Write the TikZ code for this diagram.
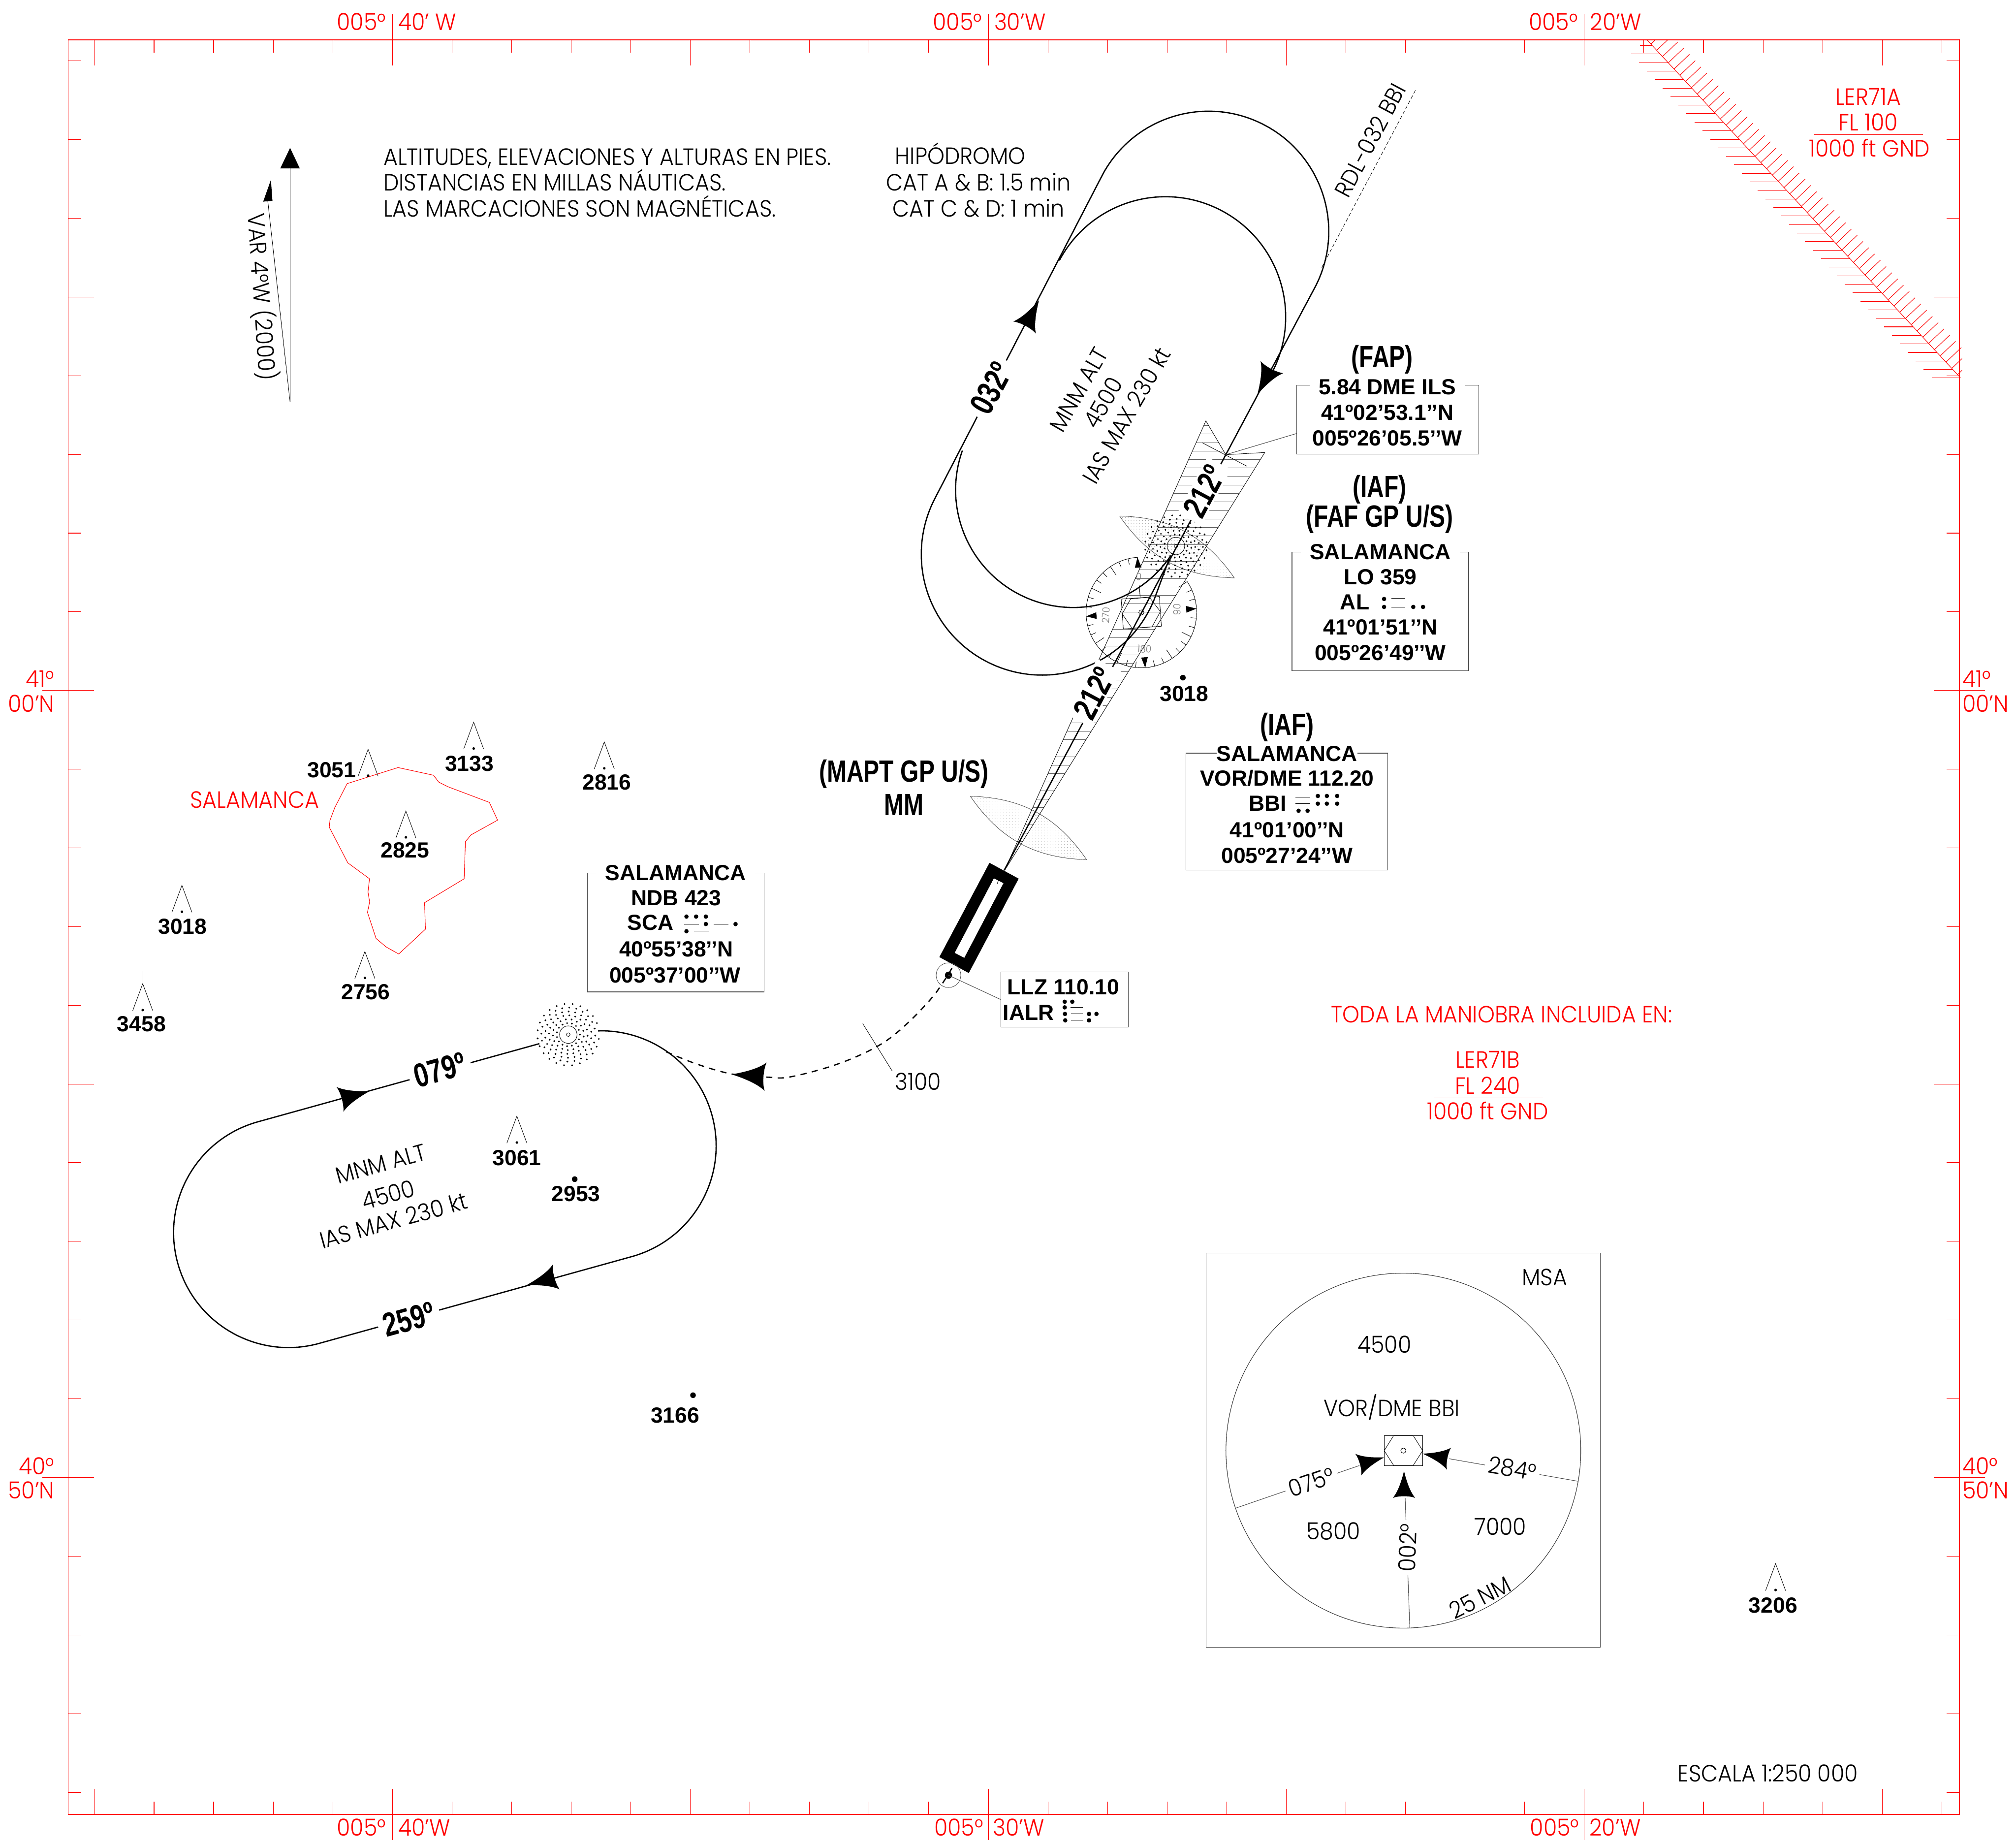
\documentclass[tikz,border=0pt]{standalone}
\usepackage{fontspec}
\usetikzlibrary{patterns.meta}
\newfontfamily\thinfont[FakeStretch=0.93]{Poppins Light}
\newfontfamily\boldfont{Liberation Sans Bold}
\newfontfamily\headfont[FakeStretch=0.77]{Liberation Sans Bold}
\definecolor{chartred}{RGB}{255,0,0}
\tikzset{
	thinlabel/.style={inner sep=0pt,font=\thinfont\fontsize{13}{15}\selectfont},
	redlabel/.style={thinlabel,text=chartred},
	boxtext/.style={inner sep=0pt,font=\boldfont\fontsize{12.1}{14}\selectfont},
	boxname/.style={boxtext,fill=white,inner xsep=5pt},
	headlabel/.style={inner sep=0pt,font=\headfont\fontsize{17}{18}\selectfont},
	tracklabel/.style={headlabel,font=\headfont\fontsize{18.5}{20}\selectfont,fill=white,inner xsep=3pt,inner ysep=1pt},
	rosetext/.style={inner sep=0pt,text=gray,font=\thinfont\fontsize{5.5}{6}\selectfont},
	infobox/.style={draw=black!70,line width=0.3pt,inner sep=0pt},
	redline/.style={draw=chartred,line width=0.3pt},
	hairline/.style={draw=black,line width=0.25pt},
	trackline/.style={draw=black,line width=0.7pt},
	lens/.style={draw=black!70,line width=0.25pt,pattern={Dots[radius=0.14pt,distance=1.6pt]},pattern color=black!50},
	barb/.pic={\fill (13,0) .. controls (5,2) and (-5,5) .. (-11,10) .. controls (-9,5) and (-9,-5) .. (-11,-10) .. controls (-5,-5) and (5,-2) .. (13,0) -- cycle;},
	obstacle/.pic={\draw[hairline] (-7.8,0)--(0,-21)--(7.8,0); \fill (0,-0.5) circle[radius=1];},
	ndbmark/.pic={
		\draw[hairline] (0,0) circle[radius=6.8];
		\draw[hairline] (0,0) circle[radius=1.4];
		\foreach \r/\n/\off in {9/15/0,12/17/7,15/20/3,18/22/9,21/24/2,24/24/8}{
			\foreach \i in {1,...,\n}{
				\fill (\i*360/\n+\off:\r) circle[radius=0.75];
			}
		}
	},
}
\begin{document}
\begin{tikzpicture}[x=0.025cm,y=-0.025cm]
	\useasboundingbox (0,0) rectangle (1568,1433);

	\draw[draw=chartred,line width=0.45pt] (53,31) rectangle (1524,1411);
	\foreach \k in {-5,...,26}{
		\pgfmathsetmacro\tx{305.2+46.35*\k}
		\pgfmathsetmacro\tl{ifthenelse(mod(\k,5)==0,20,10)}
		\draw[redline] (\tx,31)--++(0,\tl);
		\draw[redline] (\tx,1411)--++(0,-\tl);
	}
	\foreach \k in {-8,...,14}{
		\pgfmathsetmacro\ty{537+61.2*\k}
		\pgfmathsetmacro\tl{ifthenelse(mod(\k,5)==0,20,10)}
		\draw[redline] (53,\ty)--++(\tl,0);
		\draw[redline] (1524,\ty)--++(-\tl,0);
	}
	\foreach \tx in {305.2,768.7,1232.2}{
		\draw[redline] (\tx,31)--(\tx,11);
		\draw[redline] (\tx,1411)--(\tx,1431);
	}
	\foreach \ty in {537,1149}{
		\draw[redline] (53,\ty)--(33,\ty);
		\draw[redline] (1524,\ty)--(1544,\ty);
	}

	\node[redlabel,anchor=east] (topa) at (300.5,17) {005°};
	\node[redlabel,anchor=west] (topb) at (309.5,17) {40’ W};
	\node[redlabel,anchor=east] (topc) at (764,17) {005°};
	\node[redlabel,anchor=west] (topd) at (773,17) {30’W};
	\node[redlabel,anchor=east] (tope) at (1227.5,17) {005°};
	\node[redlabel,anchor=west] (topf) at (1236.5,17) {20’W};
	\node[redlabel,anchor=east] (bota) at (300.5,1421) {005°};
	\node[redlabel,anchor=west] (botb) at (309.5,1421) {40’W};
	\node[redlabel,anchor=east] (botc) at (765,1421) {005°};
	\node[redlabel,anchor=west] (botd) at (772,1421) {30’W};
	\node[redlabel,anchor=east] (bote) at (1228.5,1421) {005°};
	\node[redlabel,anchor=west] (botf) at (1236,1421) {20’W};
	\node[redlabel,anchor=east] (lefta) at (42.5,528) {41°};
	\node[redlabel,anchor=east] (leftb) at (42.5,547) {00’N};
	\node[redlabel,anchor=east] (leftc) at (42.5,1140) {40°};
	\node[redlabel,anchor=east] (leftd) at (42.5,1159) {50’N};
	\node[redlabel,anchor=west] (righta) at (1526,528) {41°};
	\node[redlabel,anchor=west] (rightb) at (1526,547) {00’N};
	\node[redlabel,anchor=west] (rightc) at (1526,1140) {40°};
	\node[redlabel,anchor=west] (rightd) at (1526,1159) {50’N};

	\begin{scope}
		\clip (53,31) rectangle (1526,1411);
		\draw[redline] (1280.7,30.7)--(1523.7,292.6);
		\foreach \i in {0,...,53}{
			\pgfmathsetmacro\hx{1284+4.5*\i}
			\pgfmathsetmacro\hy{34.3+4.85*\i}
			\draw[redline] (\hx,\hy)--++(12,-11.4);
		}
	\end{scope}
	\draw[redline] (1275.7,35.4)--(1285,35.4);
	\foreach \i in {1,...,39}{
		\pgfmathsetmacro\hy{35.4+6.63*\i}
		\pgfmathsetmacro\hx{1280.7+(\hy-30.7)*0.9278}
		\draw[redline] (\hx,\hy)--++(-22.6,0);
	}
	\node[redlabel] (ler71a) at (1453,75) {LER71A};
	\node[redlabel] (ler71afl) at (1453,95) {FL 100};
	\node[redlabel] (ler71agnd) at (1454,115) {1000 ft GND};
	\draw[redline] (1411,104.7)--(1495.5,104.7);
	\node[redlabel] (toda) at (1168,789) {TODA LA MANIOBRA INCLUIDA EN:};
	\node[redlabel] (ler71b) at (1157,824) {LER71B};
	\node[redlabel] (ler71bfl) at (1157,844) {FL 240};
	\node[redlabel] (ler71bgnd) at (1157,864) {1000 ft GND};
	\draw[redline] (1115,854)--(1200,854);
	\node[redlabel] (town) at (198,622) {SALAMANCA};
	\draw[redline] (270,609.4)--(309.6,596.9)--(337.2,602.9)--(341.2,608.2)--(348.1,611.7)--(380.6,624)--(387,637.8)--(366.3,649.3)--(362,654.5)--(361,683.4)--(330.2,702)--(330.9,722.6)--(310.1,741.9)--(300.3,736.4)--(292.5,729.8)--(285.8,709.5)--(287.5,701.4)--(286.2,693.7)--(287.4,683.4)--(270.5,671)--(256.1,643.3)--(256.6,638.1)--(260.4,628)--cycle;

	\node[thinlabel,anchor=base west] (notea) at (298,128.5) {ALTITUDES, ELEVACIONES Y ALTURAS EN PIES.};
	\node[thinlabel,anchor=base west] (noteb) at (298,148.5) {DISTANCIAS EN MILLAS NÁUTICAS.};
	\node[thinlabel,anchor=base west] (notec) at (298,168.5) {LAS MARCACIONES SON MAGNÉTICAS.};
	\node[thinlabel,anchor=base] (hipo) at (747,127.5) {HIPÓDROMO};
	\node[thinlabel,anchor=base] (cata) at (761,148.5) {CAT A \& B: 1.5 min};
	\node[thinlabel,anchor=base] (catc) at (761,168.5) {CAT C \& D: 1 min};
	\node[thinlabel] (scale) at (1375,1379) {ESCALA 1:250 000};

	\coordinate (varbase) at (225.6,312.6);
	\coordinate (truetip) at (225.6,131);
	\coordinate (magtip) at (208.3,156.5);
	\draw[hairline] (varbase)--(truetip);
	\draw[hairline] (varbase)--(magtip);
	\fill (225.6,115)--(218,131)--(233.2,131)--cycle;
	\fill (210.7,139.9)--(204.7,156.8)--(211.9,156.2)--cycle;
	\node[thinlabel,rotate=-86] (var) at (204,231) {VAR 4°W (2000)};

	\draw[lens] (754.7,619.2) to[bend left=27] (845.1,668.5) to[bend left=27] (754.7,619.2);
	\draw[lens] (870.8,401.3) to[bend left=27] (960,449.4) to[bend left=27] (870.8,401.3);

	\begin{scope}
		\clip (937.9,327.3)--(953.4,353.6)--(983.7,351.9)--(781.3,677)--cycle;
		\foreach \k in {-22,...,30}{
			\pgfmathsetmacro\sy{476.2+6.6*\k}
			\draw[draw=black!65,line width=0.25pt] (760,\sy)--(990,\sy);
		}
	\end{scope}
	\draw[hairline] (937.9,327.3)--(953.4,353.6)--(983.7,351.9)--(781.3,677)--cycle;
	\draw[hairline] (934.9,344.2)--(969.9,362.6);

	\coordinate (rose) at (887.7,476.3);
	\draw[hairline] ([shift={(-34:43)}]rose) arc[start angle=-34,end angle=266,radius=43];
	\foreach \k in {-3,...,27}{
		\pgfmathsetmacro\ang{-4+10*\k}
		\pgfmathsetmacro\len{ifthenelse(mod(\k,3)==0,35,38.5)}
		\draw[hairline] ([shift={(\ang:\len)}]rose)--([shift={(\ang:43)}]rose);
	}
	\foreach \ang in {-94,-4,86,176}{
		\fill[rotate around={-\ang:(rose)}] ([shift={(43,0)}]rose)--([shift={(35,-2.6)}]rose)--([shift={(35,2.6)}]rose)--cycle;
	}
	\node[rosetext,rotate=-4] (rosen) at (885.7,448.6) {0};
	\node[rosetext,rotate=86] (rosee) at (915.5,473.9) {90};
	\node[rosetext,rotate=-4] (roses) at (890.1,504.8) {180};
	\node[rosetext,rotate=86] (rosew) at (860.1,478.4) {270};
	\draw[hairline] (872,465.9)--(901.7,463.8)--(903.3,487)--(873.7,489.1)--cycle;
	\draw[hairline] (872.8,477.4)--(879.4,465.7)--(894,464.5)--(902.5,475.6)--(896,487.5)--(880.5,488.6)--cycle;
	\draw[hairline] (886.8,464.8)--(886.1,455.2);
	\draw[hairline] (rose) circle[radius=2];

	\pic at (914.6,424.6) {ndbmark};

	\draw[trackline] (909.5,434.3)--(897.7,466.2) arc[start angle=22,end angle=208,radius=94]--(857.4,136.1) arc[start angle=208,end angle=388,radius=93.5]--(953.4,353.6);
	\draw[trackline] (748.5,350.4) arc[start angle=199.5,end angle=34,radius=91.5];
	\draw[trackline] (823.9,202.6) arc[start angle=208,end angle=388,radius=93.5]--(987,290);
	\draw[trackline] (953.4,353.6)--(781,676.8);
	\pic[rotate=62] at (802,245) {barb};
	\pic[rotate=242] at (984.1,295.2) {barb};
	\draw[hairline,dash pattern=on 2pt off 1.2pt] (1028,208)--(1101,70);
	\node[thinlabel,rotate=62] (rdl) at (1065.5,109) {RDL-032 BBI};
	\node[tracklabel,rotate=62] (upa) at (771,302) {032º};
	\node[tracklabel,rotate=62] (inba) at (936.7,382) {212º};
	\node[tracklabel,rotate=62] (inbb) at (851,539) {212º};
	\node[thinlabel,rotate=60] (upmnm) at (839,303) {MNM ALT};
	\node[thinlabel,rotate=60] (upalt) at (858,313) {4500};
	\node[thinlabel,rotate=60] (upias) at (876,323) {IAS MAX 230 kt};

	\fill[even odd rule] (769.6,671)--(792.3,683.3)--(753.5,756.7)--(730.6,744.3)--cycle (773,683)--(780.5,686.8)--(750,744.9)--(742.5,741)--cycle;
	\draw[hairline] (775.5,687.5)--(776.6,684.5);
	\draw[hairline] (746.6,743)--(746,745);
	\coordinate (llzdot) at (737.7,758.4);
	\draw[draw=black!70,line width=0.25pt] (llzdot) circle[radius=9.6];
	\fill (llzdot) circle[radius=2.8];
	\draw[trackline,dash pattern=on 3.4pt off 3pt] plot[smooth,tension=0.6] coordinates {(740.4,752.9) (725.6,775) (701.2,800) (680,815) (650,828) (615,837.4) (597,837.7) (569.6,835.3) (542,827.5) (517.3,817.6)};
	\draw[hairline] (671,796)--(694,833);
	\node[thinlabel] (ceil) at (714,841) {3100};
	\pic[rotate=176,scale=1.1] at (583.4,836.5) {barb};

	\node[infobox,minimum width=2.48cm,minimum height=1.07cm] (llzbox) at (828,777.25) {};
	\draw[draw=black!70,line width=0.3pt] (llzdot)--(llzbox.west);
	\node[boxtext] (llzfreq) at (827,767.5) {LLZ 110.10};
	\node[boxtext] (llzid) at (800,787.5) {IALR};
	\foreach \x/\y in {828.1/779,834/779,828.1/783.4,828.3/788.5,847/788.5,852.8/788.5,828.5/793.5,847/793.5}{
		\fill (\x,\y) circle[radius=1.7];
	}
	\foreach \x/\y in {832.6/783.4,832.9/788.5,833/793.5}{
		\draw[hairline] (\x,\y)--++(9.4,0);
	}

	\node[headlabel] (mapt) at (703,602) {(MAPT GP U/S)};
	\node[headlabel] (mm) at (703,626) {MM};

	\node[infobox,minimum width=3.545cm,minimum height=1.34cm] (fapbox) at (1079.4,326.45) {};
	\coordinate (fapfix) at (953.4,353.6);
	\coordinate (fapend) at (1008.5,337.1);
	\draw[draw=black!70,line width=0.3pt] (fapfix)--(fapend);
	\node[headlabel] (fap) at (1075,279.5) {(FAP)};
	\node[boxname] (fapdme) at (1079,300.8) {5.84 DME ILS};
	\node[boxtext] (faplat) at (1079,320.8) {41º02’53.1’’N};
	\node[boxtext] (faplon) at (1079,340.6) {005º26’05.5’’W};

	\node[headlabel] (iafa) at (1073,380.5) {(IAF)};
	\node[headlabel] (faf) at (1073,403.5) {(FAF GP U/S)};
	\node[infobox,minimum width=3.435cm,minimum height=2.305cm] (lobox) at (1073.6,475.4) {};
	\node[boxname] (loname) at (lobox.north) {SALAMANCA};
	\node[boxtext] (lofreq) at (1073.6,448.6) {LO 359};
	\node[boxtext] (loid) at (1053.7,468.4) {AL};
	\node[boxtext] (lolat) at (1073.6,487.8) {41º01’51’’N};
	\node[boxtext] (lolon) at (1073.6,507.5) {005º26’49’’W};
	\foreach \x/\y in {1076.5/465.8,1076.5/472,1099.2/472,1106.8/472}{
		\fill (\x,\y) circle[radius=1.7];
	}
	\foreach \y in {465.4,472}{
		\draw[hairline] (1082.1,\y)--++(11,0);
	}

	\node[headlabel] (iafb) at (1001,565.5) {(IAF)};
	\node[infobox,minimum width=3.92cm,minimum height=2.27cm] (vorbox) at (1000.85,631.1) {};
	\node[boxtext,fill=white] (vorname) at (1001,586) {SALAMANCA};
	\node[boxtext] (vorfreq) at (1001,605) {VOR/DME 112.20};
	\node[boxtext] (vorid) at (986,625) {BBI};
	\node[boxtext] (vorlat) at (1001,645.5) {41º01’00’’N};
	\node[boxtext] (vorlon) at (1001,665.5) {005º27’24’’W};
	\foreach \x/\y in {1025/619,1032/619,1040/619,1025/625,1032/625,1040/625,1010/630.5,1017/630.5}{
		\fill (\x,\y) circle[radius=1.7];
	}
	\foreach \y in {620,625}{
		\draw[hairline] (1007.5,\y)--++(11.5,0);
	}

	\draw[trackline] (443.7,804.9) arc[start angle=-105.5,end angle=74.5,radius=89.4]--(248.3,1044.7) arc[start angle=74.5,end angle=254.5,radius=89.4]--cycle;
	\coordinate (scandb) at (442,804.6);
	\fill[white] (scandb) circle[radius=23.5];
	\pic at (scandb) {ndbmark};
	\pic[rotate=15.5] at (275,852) {barb};
	\pic[rotate=195.5] at (422,996) {barb};
	\node[tracklabel,rotate=15.5] (outb) at (342,832) {079º};
	\node[tracklabel,rotate=15.5] (backb) at (318,1026) {259º};
	\node[thinlabel,rotate=15.5] (lowmnm) at (296,905) {MNM ALT};
	\node[thinlabel,rotate=15.5] (lowalt) at (302,929) {4500};
	\node[thinlabel,rotate=15.5] (lowias) at (306,949) {IAS MAX 230 kt};

	\node[infobox,minimum width=3.44cm,minimum height=2.31cm] (scabox) at (525.55,725.15) {};
	\node[boxname] (scaname) at (scabox.north) {SALAMANCA};
	\node[boxtext] (scafreq) at (526,698.5) {NDB 423};
	\node[boxtext] (scaid) at (506,717.5) {SCA};
	\node[boxtext] (scalat) at (526,738) {40º55’38’’N};
	\node[boxtext] (scalon) at (525,758.5) {005º37’00’’W};
	\foreach \x/\y in {533.9/712.8,541.4/712.8,549/712.8,549/718.6,572.1/718.6,533.9/724.2}{
		\fill (\x,\y) circle[radius=1.7];
	}
	\foreach \x/\y in {532.2/718.6,555.2/718.6,539.8/724.2}{
		\draw[hairline] (\x,\y)--++(11.3,0);
	}

	\pic at (368.4,582.6) {obstacle};
	\node[boxtext] (h3133) at (365,594) {3133};
	\pic at (286.3,603.7) {obstacle};
	\node[boxtext] (h3051) at (258,598.7) {3051};
	\pic at (470,598) {obstacle};
	\node[boxtext] (h2816) at (472,608.5) {2816};
	\pic at (315.7,651.7) {obstacle};
	\node[boxtext] (h2825) at (315,661) {2825};
	\pic at (141.5,709.5) {obstacle};
	\node[boxtext] (h3018a) at (142,720.5) {3018};
	\pic at (283.8,761) {obstacle};
	\node[boxtext] (h2756) at (284.4,771.3) {2756};
	\pic at (111,786) {obstacle};
	\draw[hairline] (111,765)--(111,755);
	\node[boxtext] (h3458) at (110,796.5) {3458};
	\pic at (402,889) {obstacle};
	\node[boxtext] (h3061) at (402,900.5) {3061};
	\pic at (1381,1237) {obstacle};
	\node[boxtext] (h3206) at (1379,1248.5) {3206};
	\fill (447,917) circle[radius=2.2];
	\node[boxtext] (h2953) at (448,928.5) {2953};
	\fill (539,1085) circle[radius=2.2];
	\node[boxtext] (h3166) at (525,1100.5) {3166};
	\fill (920,527) circle[radius=2.2];
	\node[boxtext] (h3018b) at (921,539.5) {3018};

	\node[infobox,minimum width=7.665cm,minimum height=7.66cm] (msabox) at (1091.4,1127.8) {};
	\coordinate (msa) at (1091.5,1128.1);
	\draw[draw=black!80,line width=0.3pt] (msa) circle[radius=138];
	\node[thinlabel] (msatitle) at (1201.3,993.5) {MSA};
	\node[thinlabel] (msaa) at (1076.8,1045.6) {4500};
	\node[thinlabel] (msavor) at (1082.4,1094.6) {VOR/DME BBI};
	\node[thinlabel] (msab) at (1037,1190.7) {5800};
	\node[thinlabel] (msac) at (1166.9,1187) {7000};
	\node[thinlabel,rotate=27] (msarad) at (1151.2,1242.3) {25 NM};
	\draw[hairline] (1076.6,1116.3) rectangle (1106.5,1139.7);
	\draw[hairline] (1076.6,1128.1)--(1084,1116.3)--(1099.1,1116.3)--(1106.5,1128.1)--(1099.1,1139.7)--(1084,1139.7)--cycle;
	\draw[hairline] (msa) circle[radius=2];
	\draw[draw=black!70,line width=0.3pt] (1092.9,1165)--(1096.5,1266.1);
	\draw[draw=black!70,line width=0.3pt] (1057.3,1139.7)--(961.2,1172.8);
	\draw[draw=black!70,line width=0.3pt] (1127.1,1134.4)--(1227.7,1152);
	\pic[rotate=90,scale=0.87] at (1092,1155.3) {barb};
	\pic[rotate=15.7,scale=0.87] at (1065.7,1136.4) {barb};
	\pic[rotate=169.3,scale=0.87] at (1117.6,1132.6) {barb};
	\node[thinlabel,rotate=88,fill=white,inner xsep=2pt] (msad) at (1094.7,1203.6) {002°};
	\node[thinlabel,rotate=19,fill=white,inner xsep=2pt] (msae) at (1019.8,1152.6) {075°};
	\node[thinlabel,rotate=-10,fill=white,inner xsep=2pt] (msaf) at (1176.3,1141.9) {284°};
\end{tikzpicture}
\end{document}
